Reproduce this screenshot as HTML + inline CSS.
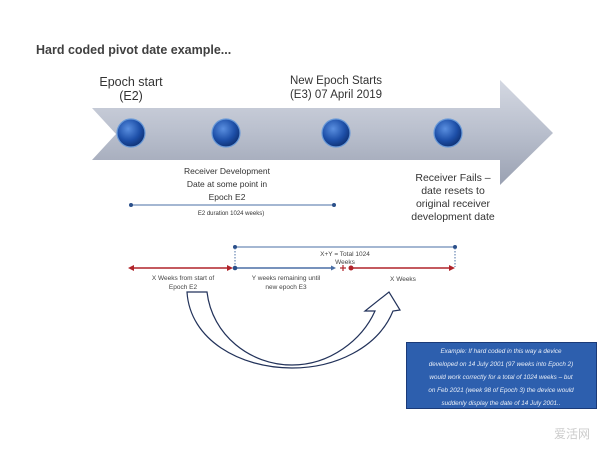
<!DOCTYPE html>
<html><head><meta charset="utf-8"><style>
html,body{margin:0;padding:0;background:#fff;width:600px;height:450px;overflow:hidden}
svg text{font-family:"Liberation Sans",sans-serif}
</style></head><body>
<svg width="600" height="450" viewBox="0 0 600 450" xmlns="http://www.w3.org/2000/svg">
<defs>
<linearGradient id="ag" x1="0" y1="0" x2="0" y2="1">
<stop offset="0" stop-color="#d4d8e2"/><stop offset="0.5" stop-color="#b9bfcd"/><stop offset="1" stop-color="#9aa1b2"/>
</linearGradient>
<radialGradient id="sg" cx="0.4" cy="0.35" r="0.7">
<stop offset="0" stop-color="#5a8fe0"/><stop offset="0.6" stop-color="#1d4fa8"/><stop offset="1" stop-color="#0d2e6e"/>
</radialGradient>
</defs>
<text x="36" y="54" font-size="12.5" font-weight="bold" fill="#404040">Hard coded pivot date example...</text>
<polygon points="92,108 500,108 500,80 553,133 500,185 500,160 92,160 116,134" fill="url(#ag)"/>
<g stroke="#6a9ad8" stroke-width="1.2">
<circle cx="131" cy="133" r="14" fill="url(#sg)"/>
<circle cx="226" cy="133" r="14" fill="url(#sg)"/>
<circle cx="336" cy="133" r="14" fill="url(#sg)"/>
<circle cx="448" cy="133" r="14" fill="url(#sg)"/>
</g>
<g fill="#333" text-anchor="middle">
<text x="131" y="86" font-size="12.5">Epoch start</text>
<text x="131" y="100" font-size="12.5">(E2)</text>
<text x="336" y="84" font-size="11.5">New Epoch Starts</text>
<text x="336" y="98" font-size="11.5">(E3) 07 April 2019</text>
<text x="227" y="174" font-size="8.5">Receiver Development</text>
<text x="227" y="187" font-size="8.5">Date at some point in</text>
<text x="227" y="200" font-size="8.5">Epoch E2</text>
<text x="453" y="181" font-size="10.5">Receiver Fails –</text>
<text x="453" y="194" font-size="10.5">date resets to</text>
<text x="453" y="207" font-size="10.5">original receiver</text>
<text x="453" y="220" font-size="10.5">development date</text>
<text x="231" y="215" font-size="6">E2 duration 1024 weeks)</text>
</g>
<line x1="131" y1="205" x2="334" y2="205" stroke="#4a6fa5" stroke-width="1"/>
<circle cx="131" cy="205" r="2" fill="#2a4f8a"/><circle cx="334" cy="205" r="2" fill="#2a4f8a"/>
<line x1="235" y1="247" x2="455" y2="247" stroke="#4a6fa5" stroke-width="1"/>
<circle cx="235" cy="247" r="2" fill="#2a4f8a"/><circle cx="455" cy="247" r="2" fill="#2a4f8a"/>
<line x1="235" y1="248" x2="235" y2="267" stroke="#4a6fa5" stroke-dasharray="1.5,1.5"/>
<line x1="455" y1="248" x2="455" y2="267" stroke="#4a6fa5" stroke-dasharray="1.5,1.5"/>
<g stroke="#b0232a" stroke-width="1.5" fill="#b0232a">
<line x1="132" y1="268" x2="231" y2="268"/>
<polygon points="128,268 134,265 134,271" stroke="none"/>
<polygon points="233,268 227,265 227,271" stroke="none"/>
<line x1="352" y1="268" x2="450" y2="268"/>
<polygon points="455,268 449,265 449,271" stroke="none"/>
<circle cx="351" cy="268" r="2.5" stroke="none"/>
<line x1="340" y1="268" x2="346" y2="268" stroke-width="1.2"/><line x1="343" y1="265" x2="343" y2="271" stroke-width="1.2"/>
</g>
<line x1="235" y1="268" x2="332" y2="268" stroke="#4a6fa5" stroke-width="1.5"/>
<polygon points="336,268 331,265.5 331,270.5" fill="#4a6fa5"/>
<circle cx="235" cy="268" r="2.3" fill="#2a4f8a"/>
<g fill="#444" text-anchor="middle" font-size="6.5">
<text x="345" y="256">X+Y = Total 1024</text>
<text x="345" y="264">Weeks</text>
<text x="183" y="280">X Weeks from start of</text>
<text x="183" y="289">Epoch E2</text>
<text x="286" y="280">Y weeks remaining until</text>
<text x="286" y="289">new epoch E3</text>
<text x="403" y="281">X Weeks</text>
</g>
<path d="M187,292 L207,292 C212,335 250,365 292,365 C330,365 362,340 375,311 L365,311 L389,292 L400,310 L393,311 C378,348 335,368 292,368 C240,368 190,340 187,292 Z" fill="#fff" stroke="#22325a" stroke-width="1.2"/>
<rect x="406.5" y="342.5" width="190" height="66" fill="#2d5fae" stroke="#1a3a78"/>
<g fill="#e8eef8" text-anchor="middle" font-size="6.3" font-style="italic">
<text x="501" y="353">Example: If hard coded in this way a device</text>
<text x="501" y="366">developed on 14 July 2001 (97 weeks into Epoch 2)</text>
<text x="501" y="379">would work correctly for a total  of 1024 weeks – but</text>
<text x="501" y="392">on Feb 2021 (week 98 of  Epoch 3) the device would</text>
<text x="501" y="405">suddenly display the date of 14 July 2001..</text>
</g>
<text x="554" y="438" font-size="12" fill="#ccc" font-family="Noto Sans CJK SC">爱活网</text>
</svg>
</body></html>
